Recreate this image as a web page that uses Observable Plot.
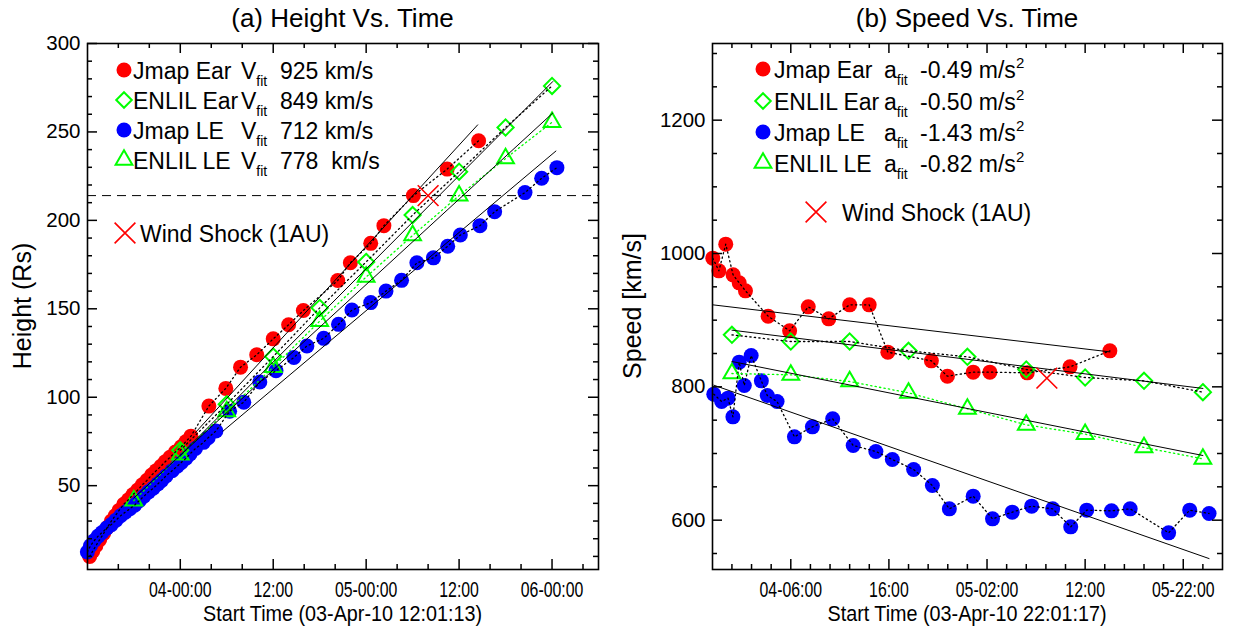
<!DOCTYPE html>
<html>
<head>
<meta charset="utf-8">
<script src="https://cdn.jsdelivr.net/npm/d3@7"></script>
<script src="https://cdn.jsdelivr.net/npm/@observablehq/plot@0.6"></script>
<style>
  body { margin: 0; background: #fff; }
  #wrap { position: relative; width: 1235px; height: 632px; overflow: hidden; background: #fff; }
  #wrap > svg { position: absolute; top: 0; }
  g[aria-label="x-axis tick label"] { font-family: "Liberation Sans", Arial, sans-serif; font-size: 22px; }
  g[aria-label="y-axis tick label"] { font-family: "Liberation Sans", Arial, sans-serif; font-size: 20.5px; }
</style>
</head>
<body>
<div id="wrap"></div>
<script>
// ---------- Panel (a): Height vs. Time (hours since 2010-04-03 00:00 UT, heights in Rs) ----------
const jmapEarT = [12.3, 12.7, 13.1, 13.6, 14.1, 14.6, 15.1, 15.6, 16.1, 16.7, 17.3, 17.9, 18.5, 19.1, 19.7, 20.3, 20.9, 21.5,
                  22.05, 22.67, 23.37, 24.12, 24.74, 25.38, 27.69, 29.88, 31.78, 33.87, 36.0, 37.99, 39.89, 44.33, 45.96,
                  48.59, 50.29, 54.1, 58.46, 62.52];
const jmapEarH = [10, 13, 16, 19.5, 23, 26.5, 30, 33, 36, 39.5, 42, 45, 47.5, 50.5, 53, 56, 58.5, 61,
                  63.5, 66, 69, 72, 75, 78, 95, 105, 117, 124, 133, 141, 149, 166, 176,
                  187, 197, 214, 229, 245];
const jmapLeT = [12.0, 12.4, 12.9, 13.4, 13.9, 14.5, 15.1, 15.7, 16.3, 16.9, 17.5, 18.1, 18.7, 19.3, 19.9, 20.5, 21.1, 21.6,
                 22.15, 22.95, 23.6, 24.1, 24.74, 25.26, 25.96, 27.0, 27.6, 28.6, 30.37, 32.2, 34.27, 36.36, 38.67, 40.35,
                 42.52, 44.43, 46.16, 48.59, 50.56, 52.57, 54.55, 56.69, 58.53, 60.16, 62.69, 64.59, 68.51, 70.66, 72.63];
const jmapLeH = [12.5, 16, 19, 21.5, 23.5, 26, 28, 30.5, 33, 35, 37, 39, 41.5, 44, 46.5, 48.5, 51, 53,
                 55.5, 58.5, 61, 63, 65.5, 68, 71, 74.5, 77.1, 80.9, 92.1, 97.2, 108.6, 115, 122.5, 129,
                 133.3, 141.2, 149.3, 153.5, 160, 166.1, 176, 178.8, 185.4, 191.7, 197, 204.9, 215.7, 223.8, 229.8];
const enlilEarT = [24, 30, 36, 42, 48, 54, 60, 66, 72];
const enlilEarH = [70, 96, 123, 150.5, 176.5, 203, 227.5, 252.5, 276];
const enlilLeT = [18, 24, 30, 36, 42, 48, 54, 60, 66, 72];
const enlilLeH = [41.5, 67.5, 92, 117, 143, 168, 191.5, 214, 235, 255.5];
const shockT = [56.0];
const shockH = [214];
const oneAU = 214;
// straight-line fits (end points)
const fitJmapEarT = [25.95, 62.4],  fitJmapEarH = [80, 254];
const fitEnlilEarT = [24, 72.1],    fitEnlilEarH = [67.2, 278.5];
const fitEnlilLeT = [18, 72.1],     fitEnlilLeH = [43, 260.7];
const fitJmapLeT = [29.5, 72.5],    fitJmapLeH = [80.8, 239.2];

// ---------- Panel (b): Speed vs. Time (km/s) ----------
const vJmapEarT = [22.05, 22.67, 23.37, 24.12, 24.74, 25.38, 27.69, 29.88, 31.78, 33.87, 36.0, 37.99, 39.89, 44.33, 45.96,
                   48.59, 50.29, 54.1, 58.46, 62.52];
const vJmapEarV = [993, 974, 1014, 968, 956, 944, 906, 884, 920, 902, 923, 923, 852, 839, 816,
                   822, 822, 821, 830, 854];
const vJmapLeT = [22.15, 22.95, 23.6, 24.1, 24.74, 25.26, 25.96, 27.0, 27.6, 28.6, 30.37, 32.2, 34.27, 36.36, 38.67,
                  40.35, 42.52, 44.43, 46.16, 48.59, 50.56, 52.57, 54.55, 56.69, 58.53, 60.16, 62.69, 64.59, 68.51,
                  70.66, 72.63];
const vJmapLeV = [789, 778, 783, 755, 837, 802, 847, 809, 787, 778, 725, 740, 752, 712, 703,
                  691, 676, 652, 617, 636, 602, 612, 621, 617, 590, 615, 614, 617, 581,
                  615, 610];
const vEnlilEarT = [24, 30, 36, 42, 48, 54, 60, 66, 72];
const vEnlilEarV = [878, 868, 868, 854, 845, 826, 814, 809, 792];
const vEnlilLeT = [24, 30, 36, 42, 48, 54, 60, 66, 72];
const vEnlilLeV = [820, 818, 808, 791, 767, 743, 729, 709, 692];
const vShockT = [56.1];
const vShockV = [813];
const vFitJmapEarT = [22.05, 62.52], vFitJmapEarV = [923, 852.4];
const vFitEnlilEarT = [24, 72],      vFitEnlilEarV = [885, 797.6];
const vFitEnlilLeT = [24, 72],       vFitEnlilLeV = [838, 697];
const vFitJmapLeT = [22.15, 72.63],  vFitJmapLeV = [802.5, 542.4];

// ---------- axes ----------
const xTicksA = [24, 36, 48, 60, 72];
const xLabelsA = ["04-00:00", "12:00", "05-00:00", "12:00", "06-00:00"];
const xMinorA = d3.range(16, 78, 4).filter(d => !xTicksA.includes(d));
const yTicksA = [50, 100, 150, 200, 250, 300];
const yMinorA = d3.range(10, 300, 10).filter(d => !yTicksA.includes(d));
const xTicksB = [30, 40, 50, 60, 70];
const xLabelsB = ["04-06:00", "16:00", "05-02:00", "12:00", "05-22:00"];
const xMinorB = d3.range(24, 74, 2).filter(d => !xTicksB.includes(d));
const yTicksB = [600, 800, 1000, 1200];
const yMinorB = d3.range(550, 1315, 50).filter(d => !yTicksB.includes(d));

// ---------- legends ----------
const legendA = [
  {name: "Jmap Ear", sym: "circle", val: "925 km/s"},
  {name: "ENLIL Ear", sym: "diamond", val: "849 km/s"},
  {name: "Jmap LE", sym: "blue", val: "712 km/s"},
  {name: "ENLIL LE", sym: "triangle", val: "778  km/s"}
];
const legendB = [
  {name: "Jmap Ear", sym: "circle", val: "-0.49 m/s"},
  {name: "ENLIL Ear", sym: "diamond", val: "-0.50 m/s"},
  {name: "Jmap LE", sym: "blue", val: "-1.43 m/s"},
  {name: "ENLIL LE", sym: "triangle", val: "-0.82 m/s"}
];

const RED = "#ff0000", BLUE = "#0000ff", GREEN = "#00ff00";
const pts = (T, V) => T.map((t, i) => ({t, v: V[i]}));

function seriesMarks(s) {
  const m = [];
  m.push(Plot.dot(pts(s.jEarT, s.jEarV), {x: "t", y: "v", r: 7.5, fill: RED, symbol: "circle"}));
  m.push(Plot.dot(pts(s.jLeT, s.jLeV), {x: "t", y: "v", r: 7.5, fill: BLUE, symbol: "circle"}));
  m.push(Plot.dot(pts(s.eEarT, s.eEarV), {x: "t", y: "v", r: 7.3, stroke: GREEN, strokeWidth: 2, symbol: "diamond2"}));
  m.push(Plot.dot(pts(s.eLeT, s.eLeV), {x: "t", y: "v", r: 8, stroke: GREEN, strokeWidth: 2, symbol: "triangle2"}));
  const dot = {x: "t", y: "v", strokeWidth: 1.3, strokeDasharray: "1.3,3.2", clip: true};
  m.push(Plot.line(pts(s.jEarT, s.jEarV), {...dot, stroke: "black"}));
  m.push(Plot.line(pts(s.jLeT, s.jLeV), {...dot, stroke: "black"}));
  m.push(Plot.line(pts(s.eEarT, s.eEarV), {...dot, stroke: "black"}));
  m.push(Plot.line(pts(s.eLeT, s.eLeV), {...dot, stroke: GREEN}));
  for (const [T, V] of s.fits) m.push(Plot.line(pts(T, V), {x: "t", y: "v", stroke: "black", strokeWidth: 1, clip: true}));
  m.push(Plot.dot(pts(s.shT, s.shV), {x: "t", y: "v", r: 9.5, stroke: RED, strokeWidth: 1.6, symbol: "times"}));
  return m;
}

function panel({width, marginLeft, marginRight, xDomain, yDomain, xTicks, xLabels, xMinor, yTicks, yMinor, marks}) {
  const height = 632, marginTop = 43, marginBottom = 63;
  const ph = height - marginTop - marginBottom;
  const pw = width - marginLeft - marginRight;
  const MAJ = 10, MIN = 5;
  return Plot.plot({
    width, height, marginLeft, marginRight, marginTop, marginBottom,
    x: {domain: xDomain}, y: {domain: yDomain},
    style: {fontFamily: "Liberation Sans, Arial, sans-serif", fontSize: "20px", background: "white", color: "black", overflow: "visible"},
    marks: [
      ...marks,
      Plot.tickX(xTicks, {x: d => d, insetTop: ph - MAJ, strokeWidth: 1.5}),
      Plot.tickX(xTicks, {x: d => d, insetBottom: ph - MAJ, strokeWidth: 1.5}),
      Plot.tickX(xMinor, {x: d => d, insetTop: ph - MIN, strokeWidth: 1.5}),
      Plot.tickX(xMinor, {x: d => d, insetBottom: ph - MIN, strokeWidth: 1.5}),
      Plot.tickY(yTicks, {y: d => d, insetRight: pw - MAJ, strokeWidth: 1.5}),
      Plot.tickY(yTicks, {y: d => d, insetLeft: pw - MAJ, strokeWidth: 1.5}),
      Plot.tickY(yMinor, {y: d => d, insetRight: pw - MIN, strokeWidth: 1.5}),
      Plot.tickY(yMinor, {y: d => d, insetLeft: pw - MIN, strokeWidth: 1.5}),
      Plot.axisX({ticks: xTicks, tickSize: 0, tickPadding: 12, tickFormat: d => xLabels[xTicks.indexOf(d)], label: null}),
      Plot.axisY({ticks: yTicks, tickSize: 0, tickPadding: 7, tickFormat: d => String(d), label: null}),
      Plot.frame({stroke: "black", strokeWidth: 1.6})
    ]
  });
}

const wrap = document.getElementById("wrap");

const left = panel({
  width: 617, marginLeft: 87, marginRight: 19,
  xDomain: [12.02, 78], yDomain: [2.6, 300],
  xTicks: xTicksA, xLabels: xLabelsA, xMinor: xMinorA, yTicks: yTicksA, yMinor: yMinorA,
  marks: [
    Plot.ruleY([oneAU], {stroke: "black", strokeWidth: 1, strokeDasharray: "9,6"}),
    ...seriesMarks({
      jEarT: jmapEarT, jEarV: jmapEarH, jLeT: jmapLeT, jLeV: jmapLeH,
      eEarT: enlilEarT, eEarV: enlilEarH, eLeT: enlilLeT, eLeV: enlilLeH,
      shT: shockT, shV: shockH,
      fits: [[fitJmapEarT, fitJmapEarH], [fitEnlilEarT, fitEnlilEarH], [fitEnlilLeT, fitEnlilLeH], [fitJmapLeT, fitJmapLeH]]
    })
  ]
});
left.style.left = "0px";
wrap.appendChild(left);

const right = panel({
  width: 618, marginLeft: 95, marginRight: 13,
  xDomain: [22.02, 74], yDomain: [526, 1315],
  xTicks: xTicksB, xLabels: xLabelsB, xMinor: xMinorB, yTicks: yTicksB, yMinor: yMinorB,
  marks: seriesMarks({
    jEarT: vJmapEarT, jEarV: vJmapEarV, jLeT: vJmapLeT, jLeV: vJmapLeV,
    eEarT: vEnlilEarT, eEarV: vEnlilEarV, eLeT: vEnlilLeT, eLeV: vEnlilLeV,
    shT: vShockT, shV: vShockV,
    fits: [[vFitJmapEarT, vFitJmapEarV], [vFitEnlilEarT, vFitEnlilEarV], [vFitEnlilLeT, vFitEnlilLeV], [vFitJmapLeT, vFitJmapLeV]]
  })
});
right.style.left = "617px";
wrap.appendChild(right);

// condensed look of the time tick labels (IDL narrow font): horizontal scaling about each label's anchor
d3.selectAll('#wrap g[aria-label="x-axis tick label"] text').each(function () {
  const tr = this.getAttribute("transform") || "";
  this.setAttribute("transform", (tr + " scale(0.72,1)").trim());
});

// ---------- overlay: titles, axis titles, legends ----------
const ov = d3.select(wrap).append("svg")
  .attr("width", 1235).attr("height", 632)
  .style("position", "absolute").style("left", "0px").style("top", "0px")
  .style("font-family", "Liberation Sans, Arial, sans-serif");

ov.append("text").attr("x", 342.5).attr("y", 27).attr("text-anchor", "middle").attr("font-size", 26).text("(a) Height Vs. Time");
ov.append("text").attr("x", 967).attr("y", 27).attr("text-anchor", "middle").attr("font-size", 26).text("(b) Speed Vs. Time");

ov.append("text").attr("x", 342.5).attr("y", 621).attr("text-anchor", "middle").attr("font-size", 22.5)
  .attr("textLength", 279).attr("lengthAdjust", "spacingAndGlyphs").text("Start Time (03-Apr-10 12:01:13)");
ov.append("text").attr("x", 967).attr("y", 621).attr("text-anchor", "middle").attr("font-size", 22.5)
  .attr("textLength", 279).attr("lengthAdjust", "spacingAndGlyphs").text("Start Time (03-Apr-10 22:01:17)");

ov.append("text").attr("transform", "translate(31,306) rotate(-90)").attr("text-anchor", "middle").attr("font-size", 25).text("Height (Rs)");
ov.append("text").attr("transform", "translate(641,306) rotate(-90)").attr("text-anchor", "middle").attr("font-size", 25).text("Speed [km/s]");

function symbolPath(kind) {
  const area = r => Math.PI * r * r;
  if (kind === "circle" || kind === "blue") return d3.symbol(d3.symbolCircle, area(7.5))();
  if (kind === "diamond") return d3.symbol(d3.symbolDiamond2, area(7.0))();
  if (kind === "triangle") return d3.symbol(d3.symbolTriangle2, area(8))();
  return d3.symbol(d3.symbolTimes, area(9.5))();
}
function drawSymbol(g, kind, x, y) {
  const p = g.append("path").attr("d", symbolPath(kind)).attr("transform", `translate(${x},${y})`);
  if (kind === "circle") p.attr("fill", RED);
  else if (kind === "blue") p.attr("fill", BLUE);
  else if (kind === "times") p.attr("fill", "none").attr("stroke", RED).attr("stroke-width", 1.6);
  else p.attr("fill", "none").attr("stroke", GREEN).attr("stroke-width", 2);
}

const FS = 23;
// left legend
const rowsA = [70, 100, 130, 160];
legendA.forEach((d, i) => {
  const y = rowsA[i];
  drawSymbol(ov, d.sym, 124, y);
  ov.append("text").attr("x", 133).attr("y", y + 8.5).attr("font-size", FS).text(d.name);
  const v = ov.append("text").attr("x", 241).attr("y", y + 8.5).attr("font-size", FS);
  v.append("tspan").text("V");
  v.append("tspan").attr("font-size", 14).attr("dy", 7).text("fit");
  ov.append("text").attr("x", 280).attr("y", y + 8.5).attr("font-size", FS).style("white-space", "pre").text(d.val);
});
drawSymbol(ov, "times", 125, 233);
ov.append("text").attr("x", 140).attr("y", 241.5).attr("font-size", FS).text("Wind Shock (1AU)");

// right legend
const rowsB = [69, 101, 132, 163];
legendB.forEach((d, i) => {
  const y = rowsB[i];
  drawSymbol(ov, d.sym, 763, y);
  ov.append("text").attr("x", 774).attr("y", y + 8.5).attr("font-size", FS).text(d.name);
  const a = ov.append("text").attr("x", 884).attr("y", y + 8.5).attr("font-size", FS);
  a.append("tspan").text("a");
  a.append("tspan").attr("font-size", 14).attr("dy", 7).text("fit");
  const t = ov.append("text").attr("x", 920).attr("y", y + 8.5).attr("font-size", FS);
  t.append("tspan").text(d.val);
  t.append("tspan").attr("font-size", 15).attr("dy", -10).text("2");
});
drawSymbol(ov, "times", 816, 212);
ov.append("text").attr("x", 842).attr("y", 220.5).attr("font-size", FS).text("Wind Shock (1AU)");
</script>
</body>
</html>
